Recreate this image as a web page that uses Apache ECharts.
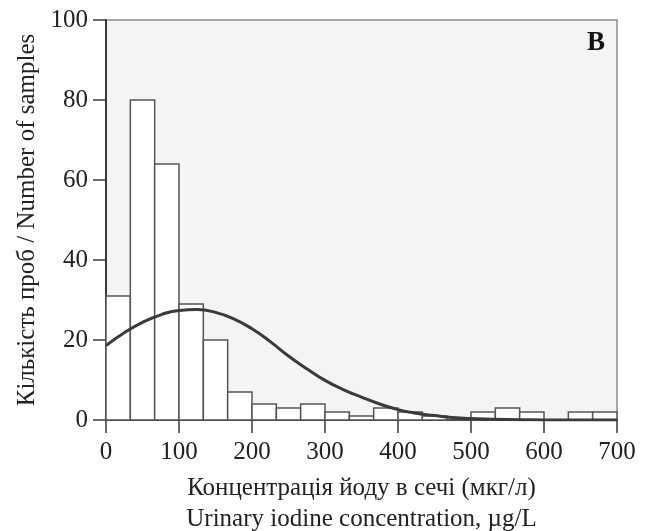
<!DOCTYPE html>
<html lang="uk">
<head>
    <meta charset="UTF-8">
    <title>Urinary iodine</title>
    <script src="https://cdn.jsdelivr.net/npm/echarts@6/dist/echarts.min.js"></script>
</head>
<style>
    body { margin:0; padding:0; background:#fff; }
</style>
<body>
<div id="main" style="width: 648px;height: 531px;"></div>
<script>
    // histogram: 21 bins from 0 to 700
    var binCount = [31, 80, 64, 29, 20, 7, 4, 3, 4, 2, 1, 3, 2, 1, 0, 2, 3, 2, 0, 2, 2];
    var xMin = 0, xMax = 700;
    // fitted curve
    var curveX = [0, 25, 50, 75, 100, 125, 150, 175, 200, 225, 250, 275, 300, 325, 350, 375, 400, 425, 450, 475, 500, 550, 600, 650, 700];
    var curveY = [18.6, 21.8, 24.4, 26.3, 27.4, 27.6, 26.9, 25.3, 22.8, 19.6, 16.0, 12.8, 9.9, 7.6, 5.7, 4.0, 2.6, 1.7, 1.1, 0.6, 0.35, 0.1, 0.03, 0, 0];
    var xTicks = [0, 100, 200, 300, 400, 500, 600, 700];
    var yTicks = [0, 20, 40, 60, 80, 100];

    var binW = (xMax - xMin) / binCount.length;
    var histData = binCount.map(function (v, i) {
        return [xMin + i * binW, xMin + (i + 1) * binW, v];
    });
    var lineData = curveX.map(function (x, i) { return [x, curveY[i]]; });

    var font = '"Liberation Serif", "DejaVu Serif", serif';
    var myChart = echarts.init(document.getElementById('main'));
    var option = {
        animation: false,
        grid: {
            left: 106, right: 31, top: 20, bottom: 111,
            outerBoundsMode: 'none',
            show: true, backgroundColor: '#f4f4f4', borderColor: '#8a8a8a', borderWidth: 1.5
        },
        xAxis: {
            type: 'value', min: xTicks[0], max: xTicks[xTicks.length - 1], interval: 100,
            splitLine: { show: false },
            axisLine: { lineStyle: { color: '#3a3a3a', width: 2 } },
            axisTick: { length: 13, lineStyle: { color: '#3a3a3a', width: 1.5 } },
            axisLabel: { color: '#222', fontFamily: font, fontSize: 25, margin: 20 },
            name: 'Концентрація йоду в сечі (мкг/л)\nUrinary iodine concentration, µg/L',
            nameLocation: 'middle', nameGap: 53,
            nameTextStyle: { color: '#222', fontFamily: font, fontSize: 25, lineHeight: 31, verticalAlign: 'top' }
        },
        yAxis: {
            type: 'value', min: yTicks[0], max: yTicks[yTicks.length - 1], interval: 20,
            splitLine: { show: false },
            axisLine: { show: true, lineStyle: { color: '#3a3a3a', width: 2 } },
            axisTick: { show: true, length: 13, lineStyle: { color: '#3a3a3a', width: 1.5 } },
            axisLabel: { color: '#222', fontFamily: font, fontSize: 25, margin: 18 },
            name: 'Кількість проб / Number of samples',
            nameLocation: 'middle', nameGap: 66, nameRotate: 90,
            nameTextStyle: { color: '#222', fontFamily: font, fontSize: 25 }
        },
        graphic: [{
            type: 'text', left: 587, top: 30,
            style: { text: 'B', font: 'bold 27px ' + font, fill: '#111' }
        }],
        series: [{
            type: 'custom',
            data: histData,
            renderItem: function (params, api) {
                var p0 = api.coord([api.value(0), api.value(2)]);
                var p1 = api.coord([api.value(1), 0]);
                return {
                    type: 'rect',
                    shape: { x: p0[0], y: p0[1], width: p1[0] - p0[0], height: p1[1] - p0[1] },
                    style: { fill: '#fff', stroke: '#555', lineWidth: 1.5 }
                };
            },
            encode: { x: [0, 1], y: 2 },
            z: 2
        }, {
            type: 'line',
            data: lineData,
            smooth: true,
            symbol: 'none',
            lineStyle: { color: '#3a3a3a', width: 3 },
            z: 3
        }]
    };
    myChart.setOption(option);
</script>
</body>
</html>
